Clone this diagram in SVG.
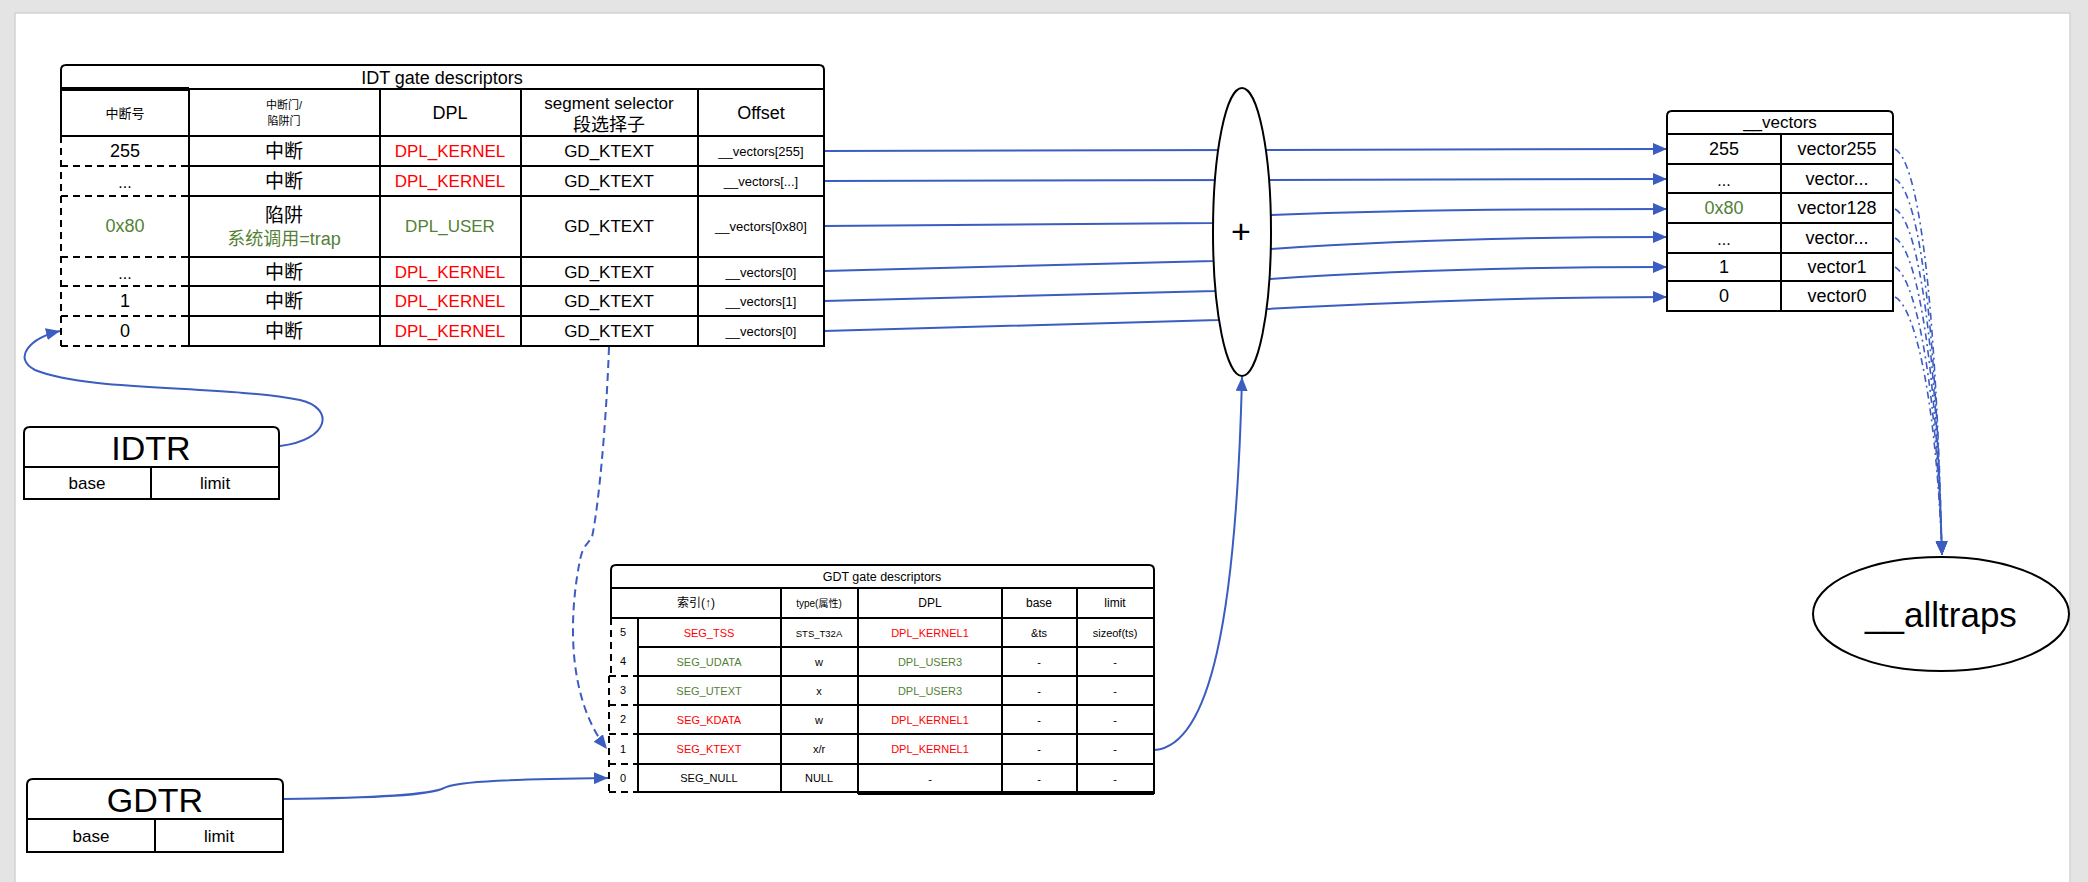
<svg xmlns="http://www.w3.org/2000/svg" width="2088" height="882" viewBox="0 0 2088 882">
<defs>
<style>
.t{font-family:"Liberation Sans","Noto Sans CJK SC",sans-serif;fill:#000;text-anchor:middle;dominant-baseline:central}
.red{fill:#ff0000}
.grn{fill:#538135}
.ln{stroke:#000;stroke-width:2;fill:none}
.bx{stroke:#000;stroke-width:2;fill:#fff}
.dsh{stroke:#000;stroke-width:2;fill:none;stroke-dasharray:7 5}
.cn{stroke:#3b5cc0;stroke-width:2;fill:none}
.cnd{stroke:#3b5cc0;stroke-width:2;fill:none;stroke-dasharray:8 5}
.cdd{stroke:#3b5cc0;stroke-width:1.6;fill:none;stroke-dasharray:7 4 2 4}
</style>
<marker id="ah" markerUnits="userSpaceOnUse" markerWidth="14" markerHeight="12" refX="14" refY="6" orient="auto">
<path d="M0,0 L14,6 L0,12 Z" fill="#3b5cc0"/>
</marker>
</defs>
<rect x="0" y="0" width="2088" height="882" fill="#e4e4e4"/>
<rect x="15" y="13" width="2055" height="872" fill="#fff" stroke="#d2d2d2" stroke-width="1.5"/>

<g id="connectors">
<path class="cn" d="M824,151 L1241,150 L1667,149" marker-end="url(#ah)"/>
<path class="cn" d="M824,181 L1241,180 L1667,179" marker-end="url(#ah)"/>
<path class="cn" d="M824,226 L1213,223 L1271,215 C1400,210 1550,209 1667,209" marker-end="url(#ah)"/>
<path class="cn" d="M824,271 L1213,261 L1271,249 C1400,240 1550,237 1667,237" marker-end="url(#ah)"/>
<path class="cn" d="M824,301 L1215,291 L1270,279 C1400,270 1550,267 1667,267" marker-end="url(#ah)"/>
<path class="cn" d="M824,331 L1218,320 L1267,309 C1400,302 1550,297 1667,297" marker-end="url(#ah)"/>
<path class="cn" d="M280,446 C330,440 335,408 300,400 C220,385 90,392 35,370 C12,358 30,338 60,331" marker-end="url(#ah)"/>
<path class="cn" d="M283,799 C380,798 430,795 444,788 C456,781 520,779 608,778" marker-end="url(#ah)"/>
<path class="cnd" d="M609,347 C606,430 598,510 592,537 C588,544 583,545 580,560 C568,620 568,700 607,749" marker-end="url(#ah)"/>
<path class="cn" d="M1155,750 C1210,745 1236,620 1242,377" marker-end="url(#ah)"/>
<path class="cdd" d="M1895,149 C1915,160 1935,260 1942,555" marker-end="url(#ah)"/>
<path class="cdd" d="M1895,179 C1914,188 1935,280 1942,555" marker-end="url(#ah)"/>
<path class="cdd" d="M1895,209 C1913,218 1935,300 1942,555" marker-end="url(#ah)"/>
<path class="cdd" d="M1895,238 C1913,247 1935,330 1942,555" marker-end="url(#ah)"/>
<path class="cdd" d="M1895,267 C1912,276 1935,355 1942,555" marker-end="url(#ah)"/>
<path class="cdd" d="M1895,297 C1912,305 1935,380 1942,555" marker-end="url(#ah)"/>
</g>

<g id="idt">
<path class="bx" d="M61,89 L61,70 Q61,65 66,65 L819,65 Q824,65 824,70 L824,89 Z"/>
<text class="t" x="442" y="78" font-size="18">IDT gate descriptors</text>
<rect class="bx" x="61" y="89" width="763" height="47"/>
<line x1="61" y1="89" x2="189" y2="89" stroke="#000" stroke-width="4"/>
<path class="ln" d="M189,89 V136 M380,89 V136 M521,89 V136 M698,89 V136"/>
<text class="t" x="125" y="113" font-size="13">中断号</text>
<text class="t" x="284" y="105" font-size="11">中断门/</text>
<text class="t" x="284" y="121" font-size="11">陷阱门</text>
<text class="t" x="450" y="113" font-size="18">DPL</text>
<text class="t" x="609" y="103" font-size="17">segment selector</text>
<text class="t" x="609" y="125" font-size="18">段选择子</text>
<text class="t" x="761" y="113" font-size="18">Offset</text>
<rect class="bx" x="189" y="136" width="635" height="210"/>
<path class="ln" d="M189,166 H824 M189,196 H824 M189,257 H824 M189,286 H824 M189,316 H824 M380,136 V346 M521,136 V346 M698,136 V346 M189,136 V286"/>
<path class="dsh" d="M189,286 V346 M61,136 V346 M61,166 H189 M61,196 H189 M61,257 H189 M61,286 H189 M61,316 H189 M61,346 H189"/>
<text class="t" x="125" y="151" font-size="18">255</text>
<text class="t" x="125" y="182" font-size="16">...</text>
<text class="t grn" x="125" y="226" font-size="18">0x80</text>
<text class="t" x="125" y="273" font-size="16">...</text>
<text class="t" x="125" y="301" font-size="18">1</text>
<text class="t" x="125" y="331" font-size="18">0</text>
<text class="t" x="284" y="151" font-size="19">中断</text>
<text class="t" x="284" y="181" font-size="19">中断</text>
<text class="t" x="284" y="215" font-size="19">陷阱</text>
<text class="t grn" x="284" y="239" font-size="18">系统调用=trap</text>
<text class="t" x="284" y="272" font-size="19">中断</text>
<text class="t" x="284" y="301" font-size="19">中断</text>
<text class="t" x="284" y="331" font-size="19">中断</text>
<text class="t red" x="450" y="151" font-size="17">DPL_KERNEL</text>
<text class="t red" x="450" y="181" font-size="17">DPL_KERNEL</text>
<text class="t grn" x="450" y="226" font-size="17">DPL_USER</text>
<text class="t red" x="450" y="272" font-size="17">DPL_KERNEL</text>
<text class="t red" x="450" y="301" font-size="17">DPL_KERNEL</text>
<text class="t red" x="450" y="331" font-size="17">DPL_KERNEL</text>
<text class="t" x="609" y="151" font-size="17">GD_KTEXT</text>
<text class="t" x="609" y="181" font-size="17">GD_KTEXT</text>
<text class="t" x="609" y="226" font-size="17">GD_KTEXT</text>
<text class="t" x="609" y="272" font-size="17">GD_KTEXT</text>
<text class="t" x="609" y="301" font-size="17">GD_KTEXT</text>
<text class="t" x="609" y="331" font-size="17">GD_KTEXT</text>
<text class="t" x="761" y="151" font-size="13">__vectors[255]</text>
<text class="t" x="761" y="181" font-size="13">__vectors[...]</text>
<text class="t" x="761" y="226" font-size="13">__vectors[0x80]</text>
<text class="t" x="761" y="272" font-size="13">__vectors[0]</text>
<text class="t" x="761" y="301" font-size="13">__vectors[1]</text>
<text class="t" x="761" y="331" font-size="13">__vectors[0]</text>
</g>

<g id="idtr">
<path class="bx" d="M24,467 L24,433 Q24,427 30,427 L273,427 Q279,427 279,433 L279,467 Z"/>
<rect class="bx" x="24" y="467" width="255" height="32"/>
<line class="ln" x1="151" y1="467" x2="151" y2="499"/>
<text class="t" x="151" y="448" font-size="34">IDTR</text>
<text class="t" x="87" y="483" font-size="17">base</text>
<text class="t" x="215" y="483" font-size="17">limit</text>
</g>

<g id="gdtr">
<path class="bx" d="M27,819 L27,785 Q27,779 33,779 L277,779 Q283,779 283,785 L283,819 Z"/>
<rect class="bx" x="27" y="819" width="256" height="33"/>
<line class="ln" x1="155" y1="819" x2="155" y2="852"/>
<text class="t" x="155" y="800" font-size="34">GDTR</text>
<text class="t" x="91" y="836" font-size="17">base</text>
<text class="t" x="219" y="836" font-size="17">limit</text>
</g>

<g id="plus">
<ellipse class="bx" cx="1242" cy="232" rx="29" ry="144"/>
<text class="t" x="1241" y="231" font-size="34">+</text>
</g>

<g id="vectors">
<path class="bx" d="M1667,134 L1667,116 Q1667,111 1672,111 L1888,111 Q1893,111 1893,116 L1893,134 Z"/>
<text class="t" x="1780" y="122" font-size="17">__vectors</text>
<rect class="bx" x="1667" y="134" width="226" height="177"/>
<path class="ln" d="M1667,164 H1893 M1667,193 H1893 M1667,223 H1893 M1667,253 H1893 M1667,281 H1893 M1781,134 V311"/>
<text class="t" x="1724" y="149" font-size="18">255</text>
<text class="t" x="1724" y="180" font-size="16">...</text>
<text class="t grn" x="1724" y="208" font-size="18">0x80</text>
<text class="t" x="1724" y="239" font-size="16">...</text>
<text class="t" x="1724" y="267" font-size="18">1</text>
<text class="t" x="1724" y="296" font-size="18">0</text>
<text class="t" x="1837" y="149" font-size="18">vector255</text>
<text class="t" x="1837" y="179" font-size="18">vector...</text>
<text class="t" x="1837" y="208" font-size="18">vector128</text>
<text class="t" x="1837" y="238" font-size="18">vector...</text>
<text class="t" x="1837" y="267" font-size="18">vector1</text>
<text class="t" x="1837" y="296" font-size="18">vector0</text>
</g>

<g id="alltraps">
<ellipse class="bx" cx="1941" cy="614" rx="128" ry="57"/>
<text class="t" x="1941" y="614" font-size="35">__alltraps</text>
</g>

<g id="gdt">
<path class="bx" d="M611,588 L611,570 Q611,565 616,565 L1149,565 Q1154,565 1154,570 L1154,588 Z"/>
<text class="t" x="882" y="577" font-size="12.5">GDT gate descriptors</text>
<rect class="bx" x="611" y="588" width="543" height="30"/>
<path class="ln" d="M781,588 V618 M858,588 V618 M1002,588 V618 M1077,588 V618"/>
<text class="t" x="696" y="603" font-size="12">索引(↑)</text>
<text class="t" x="819" y="603" font-size="10">type(属性)</text>
<text class="t" x="930" y="603" font-size="12">DPL</text>
<text class="t" x="1039" y="603" font-size="12">base</text>
<text class="t" x="1115" y="603" font-size="12">limit</text>
<rect class="bx" x="638" y="618" width="516" height="174"/>
<path class="ln" d="M638,647 H1154 M638,676 H1154 M638,705 H1154 M638,734 H1154 M638,764 H1154 M781,618 V792 M858,618 V794 M1002,618 V794 M1077,618 V794 M858,794 H1154 M1154,792 V794"/>
<path class="dsh" d="M611,618 V676 M609,676 V792 M609,676 H638 M609,705 H638 M609,734 H638 M609,764 H638 M609,792 H638"/>
<text class="t" x="623" y="632" font-size="11">5</text>
<text class="t" x="623" y="661" font-size="11">4</text>
<text class="t" x="623" y="690" font-size="11">3</text>
<text class="t" x="623" y="719" font-size="11">2</text>
<text class="t" x="623" y="749" font-size="11">1</text>
<text class="t" x="623" y="778" font-size="11">0</text>
<text class="t red" x="709" y="633" font-size="11">SEG_TSS</text>
<text class="t grn" x="709" y="662" font-size="11">SEG_UDATA</text>
<text class="t grn" x="709" y="691" font-size="11">SEG_UTEXT</text>
<text class="t red" x="709" y="720" font-size="11">SEG_KDATA</text>
<text class="t red" x="709" y="749" font-size="11">SEG_KTEXT</text>
<text class="t" x="709" y="778" font-size="11">SEG_NULL</text>
<text class="t" x="819" y="633" font-size="9.5">STS_T32A</text>
<text class="t" x="819" y="662" font-size="11">w</text>
<text class="t" x="819" y="691" font-size="11">x</text>
<text class="t" x="819" y="720" font-size="11">w</text>
<text class="t" x="819" y="749" font-size="11">x/r</text>
<text class="t" x="819" y="778" font-size="11">NULL</text>
<text class="t red" x="930" y="633" font-size="11">DPL_KERNEL1</text>
<text class="t grn" x="930" y="662" font-size="11">DPL_USER3</text>
<text class="t grn" x="930" y="691" font-size="11">DPL_USER3</text>
<text class="t red" x="930" y="720" font-size="11">DPL_KERNEL1</text>
<text class="t red" x="930" y="749" font-size="11">DPL_KERNEL1</text>
<text class="t" x="930" y="779" font-size="11">-</text>
<text class="t" x="1039" y="633" font-size="11">&amp;ts</text>
<text class="t" x="1039" y="662" font-size="11">-</text>
<text class="t" x="1039" y="691" font-size="11">-</text>
<text class="t" x="1039" y="720" font-size="11">-</text>
<text class="t" x="1039" y="749" font-size="11">-</text>
<text class="t" x="1039" y="779" font-size="11">-</text>
<text class="t" x="1115" y="633" font-size="11">sizeof(ts)</text>
<text class="t" x="1115" y="662" font-size="11">-</text>
<text class="t" x="1115" y="691" font-size="11">-</text>
<text class="t" x="1115" y="720" font-size="11">-</text>
<text class="t" x="1115" y="749" font-size="11">-</text>
<text class="t" x="1115" y="779" font-size="11">-</text>
</g>
</svg>
